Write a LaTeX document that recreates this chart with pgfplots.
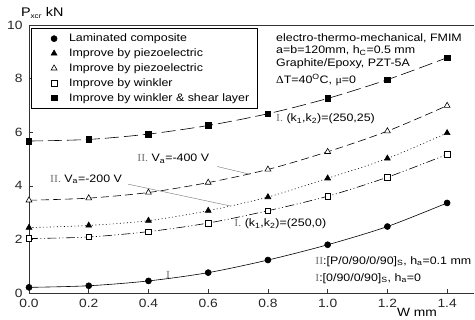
\documentclass[border=0pt]{standalone}
\usepackage{fontspec}
\setmainfont{Liberation Sans}[FakeStretch=1.15]
\newfontfamily\serif{Liberation Serif}[FakeStretch=1.1]
\usepackage{pgfplots}
\pgfplotsset{compat=1.18}
\definecolor{annot}{gray}{0.45}
\newcommand{\tf}{\fontsize{10.8}{12.5}\selectfont}
\begin{document}
\begin{tikzpicture}
\path[use as bounding box] (-29pt,-27pt) rectangle (446pt,293pt);
\begin{axis}[
  scale only axis, width=445pt, height=268pt,
  xmin=0, xmax=1.49, ymin=0, ymax=10,
  axis x line*=box, axis y line*=left,
  axis line style={line width=0.6pt, black!80},
  xtick={0,0.2,0.4,0.6,0.8,1.0,1.2,1.4},
  ytick={0,2,4,6,8,10},
  xtick pos=bottom,
  tick align=inside, major tick length=4pt,
  tick style={black!80, line width=0.5pt},
  xticklabel style={/pgf/number format/fixed, /pgf/number format/fixed zerofill, /pgf/number format/precision=1, yshift=-3pt},
  yticklabel style={xshift=-3pt, yshift=0pt},
  /pgf/number format/assume math mode=true,
  tick label style={font=\fontsize{12}{14}\selectfont, black!85},
  clip=false,
  legend image code/.code={\path[draw=none] (0pt,0pt) -- (28pt,0pt); \draw[#1] plot coordinates {(17pt,0pt)};},
  legend style={at={(rel axis cs:0.004,0.99)}, anchor=north west, draw=black, line width=0.6pt,
    font=\tf, inner xsep=6pt, inner ysep=4pt, row sep=1.5pt, column sep=2pt,
    cells={anchor=west}},
  legend cell align=left,
]
\addlegendimage{only marks, mark=*, mark size=3pt, black}
\addlegendentry{Laminated composite}
\addlegendimage{only marks, mark=triangle*, mark size=3.4pt, black}
\addlegendentry{Improve by piezoelectric}
\addlegendimage{only marks, mark=triangle, mark size=3.4pt, black, mark options={fill=white}}
\addlegendentry{Improve by piezoelectric}
\addlegendimage{only marks, mark=square, mark size=2.8pt, black, mark options={fill=white}}
\addlegendentry{Improve by winkler}
\addlegendimage{only marks, mark=square*, mark size=2.8pt, black}
\addlegendentry{Improve by winkler \& shear layer}

% Laminated composite
\addplot[black, line width=0.6pt, smooth, mark=*, mark size=3pt, forget plot] coordinates {
 (0,0.21) (0.2,0.27) (0.4,0.45) (0.6,0.76) (0.8,1.23) (1.0,1.80) (1.2,2.48) (1.4,3.36)};
% winkler (hollow squares)
\addplot[black, line width=0.6pt, smooth, dash pattern=on 9pt off 2.5pt on 1pt off 2.5pt on 1pt off 2.5pt,
  mark=square*, mark size=2.8pt, mark options={solid, fill=white}, forget plot] coordinates {
 (0,2.03) (0.2,2.09) (0.4,2.29) (0.6,2.61) (0.8,3.07) (1.0,3.61) (1.2,4.32) (1.4,5.17)};
% piezo Va=-200 (filled triangles)
\addplot[black, line width=0.6pt, smooth, dash pattern=on 1pt off 2.5pt,
  mark=triangle*, mark size=3.4pt, mark options={solid}, forget plot] coordinates {
 (0,2.44) (0.2,2.52) (0.4,2.70) (0.6,3.07) (0.8,3.58) (1.0,4.28) (1.2,5.02) (1.4,5.97)};
% piezo Va=-400 (hollow triangles)
\addplot[black, line width=0.6pt, smooth, dash pattern=on 8pt off 4pt,
  mark=triangle*, mark size=3.4pt, mark options={solid, fill=white}, forget plot] coordinates {
 (0,3.46) (0.2,3.54) (0.4,3.75) (0.6,4.12) (0.8,4.61) (1.0,5.27) (1.2,6.04) (1.4,6.99)};
% winkler & shear (filled squares)
\addplot[black, line width=0.6pt, smooth, dash pattern=on 14pt off 5pt,
  mark=square*, mark size=2.8pt, mark options={solid}, forget plot] coordinates {
 (0,5.67) (0.2,5.73) (0.4,5.93) (0.6,6.25) (0.8,6.69) (1.0,7.26) (1.2,7.96) (1.4,8.78)};

% axis labels
\node[anchor=west, font=\fontsize{12.5}{14}\selectfont, inner sep=0pt] at (axis cs:-0.027,10.45) {P\textsubscript{\fontsize{7}{8}\selectfont xcr} kN};
\node[anchor=west, font=\fontsize{12}{14}\selectfont, inner sep=0pt] at (axis cs:1.232,-0.74) {W mm};

% info block
\node[anchor=west, font=\tf, inner sep=0pt] at (axis cs:0.827,9.52) {electro-thermo-mechanical, FMIM};
\node[anchor=west, font=\tf, inner sep=0pt] at (axis cs:0.827,9.04) {a=b=120mm, h\textsubscript{C}=0.5 mm};
\node[anchor=west, font=\tf, inner sep=0pt] at (axis cs:0.827,8.56) {Graphite/Epoxy, PZT-5A};
\node[anchor=west, font=\tf, inner sep=0pt] at (axis cs:0.827,7.93) {{\serif Δ}T=40\textsuperscript{O}C, {\serif μ}=0};

% annotations
\node[anchor=west, font=\tf, inner sep=0pt] at (axis cs:0.827,6.49) {{\serif\color{annot}I.} (k\textsubscript{1},k\textsubscript{2})=(250,25)};
\node[anchor=west, font=\tf, inner sep=0pt] at (axis cs:0.362,5.02) {{\serif\color{annot}II.} V\textsubscript{a}=-400 V};
\draw[annot, line width=0.4pt] (axis cs:0.63,4.72) -- (axis cs:0.74,4.43);
\node[anchor=west, font=\tf, inner sep=0pt] at (axis cs:0.07,4.24) {{\serif\color{annot}II.} V\textsubscript{a}=-200 V};
\draw[annot, line width=0.4pt] (axis cs:0.332,4.06) -- (axis cs:0.673,3.25);
\node[anchor=west, font=\tf, inner sep=0pt] at (axis cs:0.687,2.58) {{\serif\color{annot}I.} (k\textsubscript{1},k\textsubscript{2})=(250,0)};
\node[anchor=center, font=\tf, inner sep=0pt] at (axis cs:0.466,0.66) {{\serif\color{annot}I}};
\node[anchor=west, font=\tf, inner sep=0pt] at (axis cs:0.958,1.18) {{\serif\color{annot}II}:[P/0/90/0/90]\textsubscript{S}, h\textsubscript{a}=0.1 mm};
\node[anchor=west, font=\tf, inner sep=0pt] at (axis cs:0.958,0.55) {{\serif\color{annot}I}:[0/90/0/90]\textsubscript{S}, h\textsubscript{a}=0};
\end{axis}
\end{tikzpicture}
\end{document}
